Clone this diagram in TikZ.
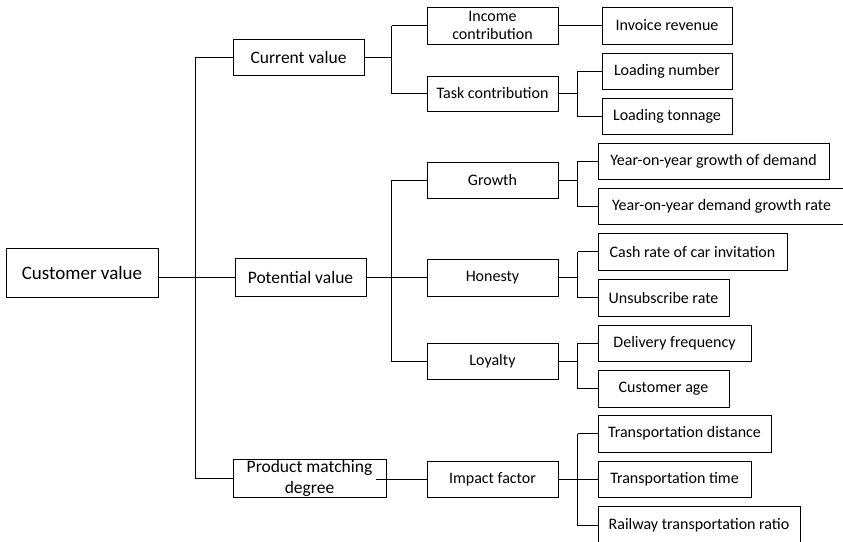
\documentclass[tikz,border=0pt]{standalone}
\usepackage{fontspec}
\setmainfont{Carlito}
\begin{document}
\begin{tikzpicture}[x=1pt,y=-1pt,
  every node/.style={font=\fontsize{16}{18}\selectfont},
  box/.style={draw, line width=1pt, rectangle, inner sep=0pt, align=center},
  lvone/.style={box, font=\fontsize{17.5}{21}\selectfont},
  conn/.style={line width=1pt}]
\useasboundingbox (0,0) rectangle (843,541);
% level 0
\node[box, minimum width=152, minimum height=49, font=\fontsize{19}{22}\selectfont] (cv) at (82,272.5) {Customer value};
% level 1
\node[lvone, minimum width=131, minimum height=36] (cur) at (298.5,57) {Current value};
\node[lvone, minimum width=131, minimum height=38] (pot) at (300.5,277) {Potential value};
\node[lvone, minimum width=153, minimum height=38] (pmd) at (309.5,478) {Product matching\\degree};
% level 2
\node[box, minimum width=131, minimum height=37] (inc) at (492.5,25.5) {Income\\contribution};
\node[box, minimum width=131, minimum height=35] (task) at (492.5,93.5) {Task contribution};
\node[box, minimum width=131, minimum height=36] (gro) at (492.5,180) {Growth};
\node[box, minimum width=131, minimum height=37] (hon) at (492.5,277.5) {Honesty};
\node[box, minimum width=131, minimum height=36] (loy) at (492.5,361) {Loyalty};
\node[box, minimum width=131, minimum height=36] (imp) at (492.5,479) {Impact factor};
% level 3
\node[box, minimum width=130, minimum height=37] (inv) at (667,25.5) {Invoice revenue};
\node[box, minimum width=130, minimum height=36] (ln) at (667,71) {Loading number};
\node[box, minimum width=130, minimum height=36] (lt) at (667,116) {Loading tonnage};
\node[box, minimum width=231, minimum height=36] (y1) at (713.5,161) {Year-on-year growth of demand};
\node[box, minimum width=252, minimum height=36] (y2) at (724,206) {\hspace*{-5pt}Year-on-year demand growth rate};
\node[box, minimum width=189, minimum height=37] (cash) at (692.5,251.5) {Cash rate of car invitation};
\node[box, minimum width=131, minimum height=37] (uns) at (663.5,297.5) {Unsubscribe rate};
\node[box, minimum width=153, minimum height=36] (del) at (674.5,343) {Delivery frequency};
\node[box, minimum width=131, minimum height=37] (age) at (663.5,388.5) {Customer age};
\node[box, minimum width=173, minimum height=37] (td) at (684.5,433.5) {Transportation distance};
\node[box, minimum width=153, minimum height=36] (tt) at (674.5,479) {Transportation time};
\node[box, minimum width=202, minimum height=38] (rr) at (699,525) {Railway transportation ratio};
% connectors
\draw[conn] (cv.east |- pot.west) -- (pot.west);
\draw[conn] (cur.west) -- ++(-37,0) coordinate (trunk) |- (pmd.west);
\draw[conn] (cur.east) -- ++(27,0) coordinate (b1);
\draw[conn] (b1 |- inc.west) |- (task.west);
\draw[conn] (b1 |- inc.west) -- (inc.west);
\draw[conn] (pot.east) -- ++(25,0) coordinate (b2);
\draw[conn] (b2 |- gro.west) -- (gro.west);
\draw[conn] (b2 |- gro.west) |- (loy.west);
\draw[conn] (b2) -- (hon.west |- b2);
\draw[conn] ([xshift=-11pt]pmd.east |- imp.west) -- (imp.west);
\draw[conn] (inc.east) -- (inv.west);
\draw[conn] (task.east) -- ++(19,0) coordinate (c1);
\draw[conn] (c1 |- ln.west) -- (ln.west);
\draw[conn] (c1 |- ln.west) |- (lt.west);
\draw[conn] (gro.east) -- ++(19,0) coordinate (c2);
\draw[conn] (c2 |- y1.west) -- (y1.west);
\draw[conn] (c2 |- y1.west) |- (y2.west);
\draw[conn] (hon.east) -- ++(19,0) coordinate (c3);
\draw[conn] (c3 |- cash.west) -- (cash.west);
\draw[conn] (c3 |- cash.west) |- (uns.west);
\draw[conn] (loy.east) -- ++(19,0) coordinate (c4);
\draw[conn] (c4 |- del.west) -- (del.west);
\draw[conn] (c4 |- del.west) |- (age.west);
\draw[conn] (imp.east) -- ++(19,0) coordinate (c5);
\draw[conn] (c5 |- td.west) -- (td.west);
\draw[conn] (c5 |- td.west) |- (rr.west);
\draw[conn] (c5) -- (tt.west);
\end{tikzpicture}
\end{document}
